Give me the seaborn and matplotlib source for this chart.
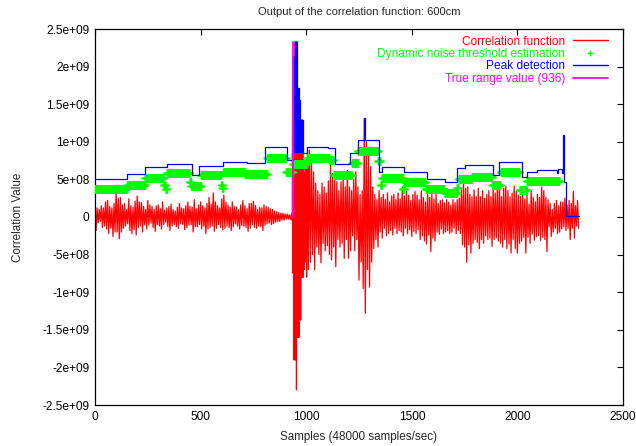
import numpy as np
import pandas as pd
import matplotlib
matplotlib.use("Agg")
import matplotlib.pyplot as plt
from matplotlib.lines import Line2D
from matplotlib.ticker import FuncFormatter, MultipleLocator
import seaborn as sns

SCALE = 1e8  # all signal values below are in units of 1e8

# Correlation function, samples 0..930 every 5 samples
corr_pre = [
    2.2, -1.8, 1.2, -0.8, 1.0, -0.6, 1.5, -1.4, 1.2, -1.2, 2.0, -1.6, 2.2, -2.2, 1.4, -1.5, 1.2, -2.6, 1.8, -2.0,
    3.4, -2.0, 2.5, -2.9, 2.6, -2.0, 1.6, -1.5, 1.8, -1.2, 1.0, -0.9, 2.4, -1.8, 1.5, -2.2, 1.3, -1.7, 2.1, -2.4,
    2.8, -1.4, 2.0, -1.2, 1.9, -2.0, 1.4, -1.0, 1.0, -1.6, 2.2, -1.1, 1.6, -0.8, 1.4, -1.4, 1.0, -1.9, 1.5, -1.0,
    1.6, -1.2, 1.1, -1.6, 2.0, -1.0, 0.9, -0.7, 1.2, -1.3, 1.4, -1.8, 1.7, -1.2, 1.0, -1.0, 0.8, -1.3, 1.3, -1.5,
    1.8, -0.9, 1.2, -1.0, 1.1, -1.7, 1.5, -1.4, 2.0, -1.1, 1.4, -1.0, 1.3, -2.0, 2.3, -1.3, 1.1, -1.3, 1.6, -1.0,
    2.0, -1.6, 1.5, -1.2, 1.2, -2.2, 1.8, -1.6, 2.6, -1.4, 1.7, -1.2, 3.2, -1.9, 2.0, -1.5, 1.5, -1.0, 1.2, -1.4,
    2.4, -1.7, 2.9, -1.5, 2.0, -1.2, 1.6, -1.4, 1.3, -1.8, 2.0, -1.3, 1.4, -0.9, 1.3, -1.2, 1.0, -1.6, 1.6, -1.1,
    2.2, -1.2, 1.5, -1.4, 1.1, -1.9, 1.8, -1.5, 1.8, -1.0, 2.1, -1.4, 1.5, -1.5, 1.0, -1.2, 1.3, -1.3, 1.2, -1.8,
    1.6, -1.1, 1.4, -0.9, 1.3, -0.8, 1.1, -1.0, 1.0, -0.9, 0.8, -0.7, 0.7, -0.6, 0.6, -0.6, 0.5, -0.4, 0.5, -0.4,
    0.4, -0.3, 0.4, -0.3, 0.3, -0.3, 0.3,
]
# Echo burst, samples 932..1010 every 2 samples
corr_burst = [
    0.5, -0.5, 21.3, -7.5, 21.3, -19.0, 21.3, -19.0, 23.3, -19.0,
    23.3, -23.0, 23.3, -16.0, 17.1, -16.0, 17.1, -16.0, 15.5, -13.7,
    15.5, -13.7, 12.9, -8.0, 12.9, -8.0, 12.9, -8.0, 6.0, -7.0,
    5.0, -6.0, 7.0, -4.5, 6.5, -8.0, 4.0, -5.0, 8.0, -7.0,
]
# Samples 1015..2290 every 5 samples
corr_post = [
    8.9, -6.0, 7.5, -5.0, 6.0, -7.0, 4.5, -4.0, 3.5, -5.0, 3.0, -6.1, 4.5, -3.5, 4.0, -4.5, 3.2, -3.8, 4.8, -5.0,
    7.0, -5.7, 5.8, -4.0, 5.0, -6.6, 4.7, -3.0, 3.5, -4.0, 4.7, -3.5, 5.3, -5.5, 4.0, -3.0, 6.2, -5.5, 4.0, -4.5,
    3.5, -2.5, 5.0, -4.5, 6.0, -3.0, 4.0, -8.4, 3.0, -6.0, 3.5, -9.5, 13.0, -12.8, 10.0, -7.0, 8.5, -9.3, 6.7, -6.0,
    4.0, -4.2, 3.0, -3.0, 2.3, -4.0, 3.5, -2.0, 2.6, -2.8, 3.0, -1.5, 2.3, -2.5, 3.2, -2.2, 2.0, -1.8, 2.8, -2.4,
    3.0, -1.5, 2.3, -2.2, 3.2, -1.8, 2.4, -2.0, 4.0, -2.5, 2.8, -1.5, 3.4, -2.2, 2.9, -1.7, 2.2, -2.6, 3.0, -1.9,
    3.4, -2.2, 2.9, -1.7, 2.3, -3.0, 3.5, -2.5, 2.6, -3.2, 2.0, -3.6, 3.0, -2.4, 2.6, -4.6, 3.0, -2.8, 2.4, -3.2,
    3.0, -2.0, 1.8, -2.3, 2.2, -1.6, 2.3, -2.2, 1.9, -2.0, 2.3, -1.8, 2.0, -2.2, 1.6, -2.0, 2.3, -1.5, 1.9, -2.2,
    2.3, -1.8, 2.5, -2.2, 3.6, -3.7, 4.5, -4.0, 3.8, -6.0, 4.0, -3.7, 3.0, -4.8, 2.7, -3.5, 3.6, -3.0, 2.7, -3.4,
    3.8, -4.2, 2.7, -3.0, 3.5, -3.5, 2.5, -2.5, 3.0, -3.0, 3.5, -2.8, 2.7, -3.9, 4.0, -3.0, 3.2, -2.8, 4.0, -3.2,
    4.3, -3.5, 2.7, -4.0, 3.8, -3.0, 4.1, -4.2, 3.5, -3.6, 2.7, -4.8, 3.2, -3.0, 4.1, -4.2, 3.5, -4.8, 2.9, -3.5,
    2.7, -3.2, 3.3, -2.7, 2.4, -4.8, 3.0, -2.7, 1.7, -3.5, 3.5, -2.3, 2.6, -3.1, 2.0, -2.6, 3.0, -2.5, 2.6, -3.1,
    4.0, -2.7, 3.5, -3.0, 2.6, -4.6, 2.3, -1.3, 1.8, -2.6, 1.0, -2.0, 1.8, -1.5, 2.2, -2.2, 1.5, -2.0, 2.0, -1.6,
    2.0, -1.3, 2.5, -1.8, 1.6, -1.5, 2.2, -3.0, 1.8, -1.5, 3.4, -2.8, 1.5, -1.2, 2.2, -1.5,
]

# Dynamic noise threshold: segment start sample and level
thr_start = [0, 152, 237, 326, 334, 340, 448, 455, 502, 598, 603, 608, 710, 815,
             905, 937, 1004, 1110, 1130, 1217, 1245, 1340, 1352, 1358, 1458, 1465,
             1565, 1655, 1714, 1722, 1785, 1882, 1920, 2010, 2045]
thr_level = [3.7, 4.25, 5.2, 4.3, 3.7, 5.8, 4.6, 4.1, 5.55, 4.3, 3.8, 6.0, 5.7, 7.9,
             6.0, 7.0, 7.9, 7.6, 5.6, 7.2, 8.8, 7.4, 4.3, 5.2, 3.7, 4.6,
             3.7, 3.2, 3.8, 5.0, 5.35, 4.25, 6.0, 3.6, 4.75]
thr_end = 2200

# Peak detection: step start sample and level (before, during and after the echo)
peak_pre_start = [0, 152, 237, 341, 459, 492, 606, 720, 805, 909, 932]
peak_pre_level = [5.1, 5.7, 6.6, 7.0, 5.6, 6.8, 7.35, 7.2, 9.3, 7.6, 8.5]
peak_echo_start = [936, 947, 958, 967, 973, 986]
peak_echo_level = [21.3, 23.3, 17.1, 15.5, 12.9, 8.5]
peak_echo_floor = 8.5
peak_post_start = [1004, 1103, 1136, 1207, 1245, 1273, 1278, 1345, 1359, 1463, 1572,
                   1657, 1714, 1752, 1884, 1913, 2022, 2045, 2093, 2188, 2192, 2211,
                   2216, 2223, 2230, 2290]
peak_post_level = [9.35, 9.2, 7.0, 8.55, 10.2, 13.2, 10.2, 6.0, 6.7, 6.0, 5.05,
                   4.6, 6.5, 6.9, 5.6, 7.35, 5.35, 6.0, 6.25, 5.9, 6.35, 5.9,
                   10.9, 4.7, 0.1, 0.1]

true_range = 936
true_peak = 23.3

# ---- assemble series ----
s_pre = np.arange(0, 935, 5)
s_burst = np.arange(932, 1012, 2)
s_post = np.arange(1015, 2295, 5)
corr = pd.DataFrame({
    "sample": np.concatenate([s_pre, s_burst, s_post]),
    "value": np.concatenate([corr_pre, corr_burst, corr_post]) * SCALE,
})

thr_len = np.diff(thr_start + [thr_end])
thr = pd.DataFrame({
    "sample": np.arange(thr_end),
    "value": np.repeat(thr_level, thr_len) * SCALE,
})

peak = pd.DataFrame({
    "sample": np.concatenate([peak_pre_start, peak_echo_start, peak_post_start]),
    "value": np.concatenate([peak_pre_level, peak_echo_level, peak_post_level]) * SCALE,
})

# ---- figure ----
sns.set_style("white")
plt.rcParams["font.family"] = ["Liberation Sans", "DejaVu Sans"]
plt.rcParams["font.size"] = 8.6

RED, GREEN, BLUE, MAGENTA = "#ff0000", "#00ff00", "#0000ff", "#ff00ff"

fig = plt.figure(figsize=(6.36, 4.46), dpi=100)
ax = fig.add_axes([95 / 636, 1 - 405 / 446, 528 / 636, 376 / 446])

sns.lineplot(data=corr, x="sample", y="value", ax=ax, color=RED, lw=0.9,
             estimator=None, sort=False, zorder=2)
sns.scatterplot(data=thr, x="sample", y="value", ax=ax, color=GREEN, marker="+",
                s=26, linewidth=1.0, zorder=3)
# the detector output is dense over the echo: shade it between floor and envelope
ax.fill_between(peak_echo_start, peak_echo_floor * SCALE,
                np.array(peak_echo_level) * SCALE, step="post",
                color=BLUE, lw=0, zorder=4)
sns.lineplot(data=peak, x="sample", y="value", ax=ax, color=BLUE, lw=0.9,
             estimator=None, sort=False, drawstyle="steps-post", zorder=4)
sns.lineplot(x=[true_range, true_range], y=[0, true_peak * SCALE], ax=ax,
             color=MAGENTA, lw=1.3, estimator=None, sort=False, zorder=5)

ax.set_xlim(0, 2500)
ax.set_ylim(-2.5e9, 2.5e9)
ax.xaxis.set_major_locator(MultipleLocator(500))
ax.yaxis.set_major_locator(MultipleLocator(5e8))
ax.yaxis.set_major_formatter(FuncFormatter(lambda v, p: "%g" % v))
ax.tick_params(direction="in", top=True, right=True, length=4.5, width=0.8,
               labelsize=8.6, colors="black", pad=4)
for sp in ax.spines.values():
    sp.set_color("black")
    sp.set_linewidth(0.9)

ax.set_title("Output of the correlation function: 600cm", fontsize=8, pad=10)
ax.set_xlabel("Samples (48000 samples/sec)", fontsize=8.4, labelpad=6)
ax.set_ylabel("Correlation Value", fontsize=8.4, labelpad=13)

handles = [
    Line2D([], [], color=RED, lw=1),
    Line2D([], [], color=GREEN, lw=0, marker="+", markersize=5, markeredgewidth=1),
    Line2D([], [], color=BLUE, lw=1),
    Line2D([], [], color=MAGENTA, lw=1.3),
]
labels = ["Correlation function", "Dynamic noise threshold estimation",
          "Peak detection", "True range value (936)"]
leg = ax.legend(handles, labels, loc="upper right", bbox_to_anchor=(0.980, 0.995),
                frameon=False, markerfirst=False, fontsize=8.6, handlelength=2.9,
                handletextpad=0.65, labelspacing=0.03, borderaxespad=0, numpoints=1)
for txt, col in zip(leg.get_texts(), [RED, GREEN, BLUE, MAGENTA]):
    txt.set_color(col)

fig.savefig("out.png", dpi=100)
